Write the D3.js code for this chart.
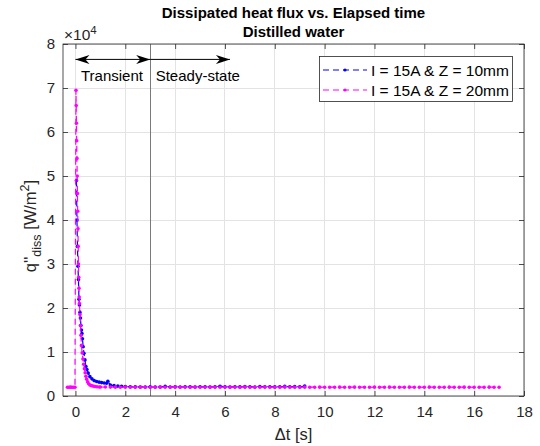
<!DOCTYPE html>
<html><head><meta charset="utf-8">
<script src="https://cdn.jsdelivr.net/npm/d3@7"></script>
<style>body{margin:0;background:#fff}svg{display:block;font-family:"Liberation Sans",Arial,sans-serif}</style>
</head><body><svg id="c" width="540" height="446"></svg>
<script>
// ---------- data ----------
const titleLines = ["Dissipated heat flux vs. Elapsed time", "Distilled water"];
const seriesNames = ["I = 15A & Z = 10mm", "I = 15A & Z = 20mm"];
const xTicks = [0, 2, 4, 6, 8, 10, 12, 14, 16, 18];
const yTicks = [0, 10000, 20000, 30000, 40000, 50000, 60000, 70000, 80000];
const yTickLabels = ["0", "1", "2", "3", "4", "5", "6", "7", "8"];

const tBlue = [0.04,0.06,0.08,0.10,0.12,0.14,0.16,0.18,0.20,0.22,0.24,0.26,0.28,0.31,0.34,0.38,0.42,0.46,0.51,0.58,0.66,0.75,0.85,0.95,1.05,1.15,1.25,1.30,1.40,1.55,1.70,1.85,
  2.0,2.2,2.4,2.6,2.8,3.0,3.2,3.4,3.6,3.8,4.0,4.2,4.4,4.6,4.8,5.0,5.2,5.4,5.6,5.8,6.0,6.2,6.4,6.6,6.8,7.0,7.2,7.4,7.6,7.8,8.0,8.2,8.4,8.6,8.8,9.0,9.2];
const qBlue = [49000,40000,34000,29500,26500,22000,20700,19000,17700,16000,15000,14200,13000,11200,9700,8200,6700,6000,5200,4400,3900,3500,3300,3150,3050,2950,2900,3350,2500,2350,2250,2200,
  2150,2100,2080,2060,2050,2070,2040,2060,2200,2060,2080,2050,2100,2070,2060,2090,2080,2060,2100,2230,2080,2060,2100,2070,2120,2080,2060,2150,2090,2110,2070,2100,2180,2090,2120,2080,2250,2150];

const tMag = [-0.32,-0.26,-0.20,-0.14,-0.08,-0.02,0.02,0.03,0.04,0.05,0.06,0.07,0.08,0.09,0.10,0.11,0.12,0.13,0.14,0.15,0.16,0.18,0.20,0.22,0.24,0.27,0.30,0.33,0.36,0.39,0.42,0.45,0.49,0.53,0.58,0.64,0.71,0.78,0.86,0.95,
  1.0,1.2,1.4,1.6,1.8,2.0,2.2,2.4,2.6,2.8,3.0,3.2,3.4,3.6,3.8,4.0,4.2,4.4,4.6,4.8,5.0,5.2,5.4,5.6,5.8,6.0,6.2,6.4,6.6,6.8,7.0,7.2,7.4,7.6,7.8,8.0,8.2,8.4,8.6,8.8,9.0,9.2,9.4,9.6,9.8,10.0,
  10.2,10.4,10.6,10.8,11.0,11.2,11.4,11.6,11.8,12.0,12.2,12.4,12.6,12.8,13.0,13.2,13.4,13.6,13.8,14.0,14.2,14.4,14.6,14.8,15.0,15.2,15.4,15.6,15.8,16.0,16.2,16.4,16.6,16.8,17.0];
const qMag = [2000,2000,2010,1990,2000,2000,69500,66000,62000,58000,54000,50000,46000,42000,38000,34000,30000,27000,24500,22500,21000,18500,16000,13800,11500,9800,8400,7200,6200,5300,4500,3800,3200,2800,2500,2350,2250,2150,2100,2050,
  2040,2030,2020,2010,2000,2010,1990,2000,2010,1990,2000,2000,2010,1990,2000,2010,2000,1990,2000,2010,2000,1990,2010,2000,2000,1990,2010,2000,2000,2010,1990,2000,2000,2010,2000,1990,2000,2010,2000,2000,1990,2010,2000,2000,2010,1990,
  2000,2000,2010,1990,2000,2010,2000,2000,1990,2010,2000,2000,2010,1990,2000,2000,2010,2000,1990,2000,2010,2000,2000,1990,2010,2000,2000,2010,2000,1990,2000,2000,2010,2000,2000];

const colors = ["#0000ff", "#ff00ff"];
const annoX = [0, 3, 6.2];
const annoY = 76500;
const annoText = ["Transient", "Steady-state"];
const annoTextX = [0.22, 3.22];
const annoTextY = 71500;
const vLineX = 3;

// ---------- layout ----------
const svg = d3.select("#c");
const L = 63, R = 524, T = 44, B = 396;
const x = d3.scaleLinear().domain([-0.5, 18]).range([L, R]);
const y = d3.scaleLinear().domain([0, 80000]).range([B, T]);
const axisCol = "#262626";
const fs = 15;

// grid
const g = svg.append("g");
g.selectAll(".gx").data(xTicks).join("line")
  .attr("x1", d => x(d)).attr("x2", d => x(d)).attr("y1", T).attr("y2", B)
  .attr("stroke", "#e3e3e3").attr("stroke-width", 1).attr("shape-rendering", "crispEdges");
g.selectAll(".gy").data(yTicks).join("line")
  .attr("y1", d => y(d)).attr("y2", d => y(d)).attr("x1", L).attr("x2", R)
  .attr("stroke", "#e3e3e3").attr("stroke-width", 1).attr("shape-rendering", "crispEdges");

// vertical separator
svg.append("line").attr("x1", x(vLineX)).attr("x2", x(vLineX)).attr("y1", T).attr("y2", B)
  .attr("stroke", "#7a7a7a").attr("stroke-width", 1).attr("shape-rendering", "crispEdges");

// axes
const xAx = d3.axisBottom(x).tickValues(xTicks).tickSize(-5).tickPadding(10).tickFormat(d3.format("d"));
const xAxT = d3.axisTop(x).tickValues(xTicks).tickSize(-5).tickFormat("");
const yAx = d3.axisLeft(y).tickValues(yTicks).tickSize(-5).tickPadding(8).tickFormat((d, i) => yTickLabels[i]);
const yAxR = d3.axisRight(y).tickValues(yTicks).tickSize(-5).tickFormat("");
function style(sel) {
  sel.selectAll("path").attr("stroke", axisCol).attr("stroke-width", 0.8);
  sel.selectAll("line").attr("stroke", axisCol).attr("stroke-width", 0.8);
  sel.selectAll("text").attr("fill", axisCol).attr("font-size", fs).attr("font-family", "Liberation Sans, Arial, sans-serif");
}
svg.append("g").attr("transform", `translate(0,${B})`).call(xAx).call(style);
svg.append("g").attr("transform", `translate(0,${T})`).call(xAxT).call(style);
svg.append("g").attr("transform", `translate(${L},0)`).call(yAx).call(style);
svg.append("g").attr("transform", `translate(${R},0)`).call(yAxR).call(style);
svg.selectAll(".domain").attr("d", null);
svg.append("rect").attr("x", L).attr("y", T).attr("width", R - L).attr("height", B - T)
  .attr("fill", "none").attr("stroke", axisCol).attr("stroke-width", 0.8);

// clip
svg.append("clipPath").attr("id", "clip").append("rect").attr("x", L).attr("y", T).attr("width", R - L).attr("height", B - T);
const plot = svg.append("g").attr("clip-path", "url(#clip)");

const series = [
  {t: tBlue, q: qBlue, c: colors[0]},
  {t: tMag, q: qMag, c: colors[1]}
];
const line = d3.line().x(d => x(d[0])).y(d => y(d[1]));
series.forEach(s => {
  const pts = s.t.map((t, i) => [t, s.q[i]]);
  plot.append("path").datum(pts).attr("d", line).attr("fill", "none")
    .attr("stroke", s.c).attr("stroke-width", 1.2).attr("stroke-dasharray", "6,4");
  plot.append("g").selectAll("circle").data(pts).join("circle")
    .attr("cx", d => x(d[0])).attr("cy", d => y(d[1])).attr("r", 1.8).attr("fill", s.c);
});

// annotations: arrows
const ay = y(annoY);
function arrowHead(xt, dir) {
  const p = d3.path();
  p.moveTo(xt, ay);
  p.lineTo(xt - dir * 14, ay - 4.5);
  p.lineTo(xt - dir * 10, ay);
  p.lineTo(xt - dir * 14, ay + 4.5);
  p.closePath();
  svg.append("path").attr("d", p.toString()).attr("fill", "#000");
}
svg.append("line").attr("x1", x(annoX[0])).attr("x2", x(annoX[1])).attr("y1", ay).attr("y2", ay).attr("stroke", "#000").attr("stroke-width", 1);
arrowHead(x(annoX[0]), -1);
arrowHead(x(annoX[1]), 1);
svg.append("line").attr("x1", x(annoX[1])).attr("x2", x(annoX[2])).attr("y1", ay).attr("y2", ay).attr("stroke", "#000").attr("stroke-width", 1);
arrowHead(x(annoX[2]), 1);
annoText.forEach((s, i) => {
  svg.append("text").attr("x", x(annoTextX[i])).attr("y", y(annoTextY)).attr("font-size", fs).attr("fill", "#000").text(s);
});

// exponent label
const ex = svg.append("text").attr("x", L + 1).attr("y", 40).attr("font-size", 15.5).attr("fill", axisCol);
ex.append("tspan").text("×10");
ex.append("tspan").attr("dy", -6).attr("font-size", 11.5).text("4");

// titles
titleLines.forEach((s, i) => {
  svg.append("text").attr("x", (L + R) / 2).attr("y", 18 + i * 19).attr("text-anchor", "middle")
    .attr("font-size", fs).attr("font-weight", "bold").attr("fill", "#000").text(s);
});

// x label
svg.append("text").attr("x", (L + R) / 2).attr("y", 440).attr("text-anchor", "middle")
  .attr("font-size", 16.5).attr("fill", axisCol).text("Δt [s]");

// y label
const yl = svg.append("text").attr("transform", `translate(36,${(T + B) / 2 + 6}) rotate(-90)`)
  .attr("text-anchor", "middle").attr("font-size", 16.5).attr("fill", axisCol);
yl.append("tspan").text("q''");
yl.append("tspan").attr("dy", 5).attr("font-size", 12.5).text("diss");
yl.append("tspan").attr("dy", -5).text(" [W/m");
yl.append("tspan").attr("dy", -7).attr("font-size", 12.5).text("2");
yl.append("tspan").attr("dy", 7).text("]");

// legend
const lg = svg.append("g");
lg.append("rect").attr("x", 319.5).attr("y", 56.5).attr("width", 193).attr("height", 45)
  .attr("fill", "#fff").attr("stroke", axisCol).attr("stroke-width", 0.8);
seriesNames.forEach((n, i) => {
  const yy = 70 + i * 20;
  lg.append("line").attr("x1", 323).attr("x2", 367).attr("y1", yy).attr("y2", yy)
    .attr("stroke", colors[i]).attr("stroke-width", 1).attr("stroke-dasharray", "6,4");
  lg.append("circle").attr("cx", 345).attr("cy", yy).attr("r", 1.6).attr("fill", colors[i]);
  lg.append("text").attr("x", 371).attr("y", yy + 5.5).attr("font-size", 15.5).attr("fill", "#000").text(n);
});
</script>
</body></html>
